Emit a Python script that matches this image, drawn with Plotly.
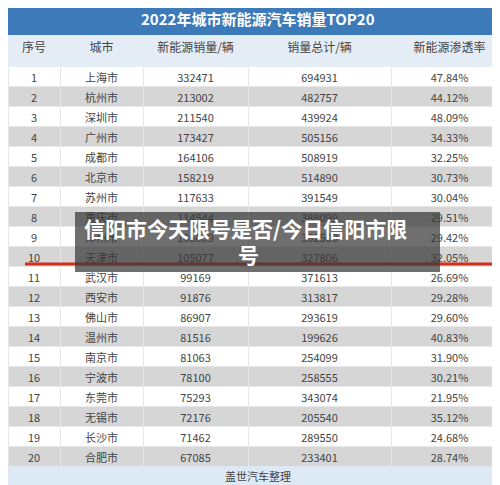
import plotly.graph_objects as go

ranks = [str(i) for i in range(1, 21)]
cities = ["上海市", "杭州市", "深圳市", "广州市", "成都市", "北京市", "苏州市", "重庆市", "郑州市", "天津市",
          "武汉市", "西安市", "佛山市", "温州市", "南京市", "宁波市", "东莞市", "无锡市", "长沙市", "合肥市"]
nev_sales = [332471, 213002, 211540, 173427, 164106, 158219, 117633, 114544, 106669, 105077,
             99169, 91876, 86907, 81516, 81063, 78100, 75293, 72176, 71462, 67085]
total_sales = [694931, 482757, 439924, 505156, 508919, 514890, 391549, 388099, 362500, 327806,
               371613, 313817, 293619, 199626, 254099, 258555, 343074, 205540, 289550, 233401]
penetration = ["47.84%", "44.12%", "48.09%", "34.33%", "32.25%", "30.73%", "30.04%", "29.51%", "29.42%", "32.05%",
               "26.69%", "29.28%", "29.60%", "40.83%", "31.90%", "30.21%", "21.95%", "35.12%", "24.68%", "28.74%"]
headers = ["序号", "城市", "新能源销量/辆", "销量总计/辆", "新能源渗透率"]

W, H = 500, 485
OFF = 8  # page offset of the figure
font = "Noto Sans CJK SC"


def py(p):
    return 1 - (p - OFF) / H


row_colors = ["white" if i % 2 == 0 else "#d6d6d6" for i in range(20)]

fig = go.Figure(go.Table(
    domain=dict(x=[0, 1], y=[0, py(35)]),
    columnwidth=[52, 83, 105, 143, 117],
    header=dict(
        values=headers,
        height=31,
        fill_color="#e4edf6",
        line_color="#e4edf6",
        font=dict(family=font, size=12, color="#444"),
        align="center",
    ),
    cells=dict(
        values=[ranks, cities, nev_sales, total_sales, penetration],
        height=20,
        fill_color=[row_colors] * 5,
        line_color="#e8e8e8",
        font=dict(family=font, size=11, color="#444"),
        align="center",
    ),
))

shapes = [
    # title bar
    dict(type="rect", xref="paper", yref="paper", x0=0, x1=1, y0=py(35), y1=1,
         fillcolor="#3d7ab9", line_width=0),
    # footer
    dict(type="rect", xref="paper", yref="paper", x0=0, x1=1, y0=0, y1=py(466),
         fillcolor="#dde9f4", line_width=0),
    # red underline
    dict(type="line", xref="paper", yref="paper", x0=17 / W, x1=485 / W, y0=py(264), y1=py(264),
         line=dict(color="#d2301c", width=3)),
    # overlay box
    dict(type="rect", xref="paper", yref="paper", x0=67 / W, x1=432 / W, y0=py(272), y1=py(212),
         fillcolor="rgba(55,55,55,0.72)", line_width=0),
]

annotations = [
    dict(text="<b>2022年城市新能源汽车销量TOP20</b>", x=0.5, y=py(18),
         font=dict(family=font, size=15, color="white")),
    dict(text="盖世汽车整理", x=0.5, y=py(476),
         font=dict(family=font, size=11, color="#444")),
    dict(text="<b>信阳市今天限号是否/今日信阳市限</b>", x=74 / W, y=py(228), xanchor="left",
         font=dict(family=font, size=21, color="white")),
    dict(text="<b>号</b>", x=0.5 - 10 / W, y=py(254),
         font=dict(family=font, size=21, color="white")),
]
for a in annotations:
    a.update(xref="paper", yref="paper", yanchor="middle", showarrow=False)

fig.update_layout(
    width=W, height=H,
    margin=dict(l=0, r=0, t=0, b=0),
    paper_bgcolor="white",
    shapes=shapes,
    annotations=annotations,
)

fig.write_html("out.html")
